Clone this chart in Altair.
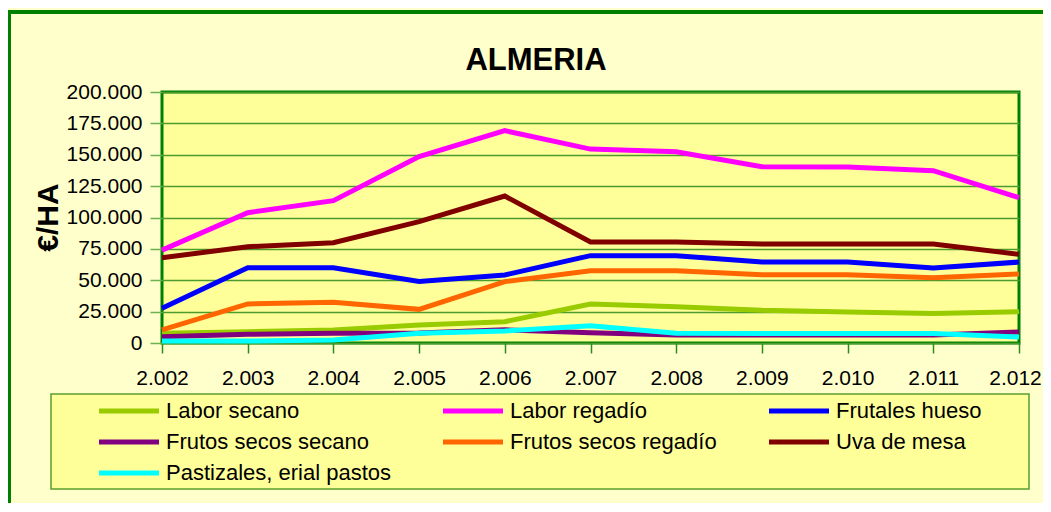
import altair as alt
import pandas as pd

FONT = "Liberation Sans"

years = ["2.002", "2.003", "2.004", "2.005", "2.006", "2.007", "2.008", "2.009", "2.010", "2.011", "2.012"]
series = ["Labor secano", "Labor regadío", "Frutales hueso", "Frutos secos secano",
          "Frutos secos regadío", "Uva de mesa", "Pastizales, erial pastos"]
colors = ["#99CC00", "#FF00FF", "#0000FF", "#800080", "#FF6600", "#800000", "#00FFFF"]

labor_secano = [7700, 9000, 10400, 14300, 17000, 31000, 28900, 26000, 24700, 23600, 25000]
labor_regadio = [74000, 103800, 113400, 148500, 169200, 154500, 152400, 140500, 140300, 137300, 115800]
frutales_hueso = [27600, 60000, 60000, 49000, 54200, 69600, 69600, 64500, 64500, 59800, 64500]
frutos_secos_secano = [5000, 6900, 7700, 8000, 10500, 8200, 6400, 6400, 6400, 6400, 8800]
frutos_secos_regadio = [10400, 31100, 32400, 26800, 48900, 57600, 57600, 54400, 54400, 52000, 55000]
uva_mesa = [68000, 76700, 79900, 96700, 117100, 80500, 80500, 78900, 78900, 78900, 70700]
pastizales = [1600, 1600, 2400, 7700, 9600, 13800, 7700, 7500, 7500, 7500, 4800]

y_ticks = [0, 25000, 50000, 75000, 100000, 125000, 150000, 175000, 200000]

all_values = [labor_secano, labor_regadio, frutales_hueso, frutos_secos_secano,
              frutos_secos_regadio, uva_mesa, pastizales]
rows = []
for name, vals in zip(series, all_values):
    for yr, v in zip(years, vals):
        rows.append({"year": yr, "value": v, "series": name})
df = pd.DataFrame(rows)

W, H = 857, 251
one = pd.DataFrame({"k": [0]})

frame_left = alt.Chart(one).mark_rule(color="#008000", strokeWidth=4).encode(
    x=alt.value(-153), y=alt.value(-82), y2=alt.value(440))
frame_top = alt.Chart(one).mark_rule(color="#008000", strokeWidth=4).encode(
    x=alt.value(-155), x2=alt.value(900), y=alt.value(-80))
legend_box = alt.Chart(one).mark_rect(fill="#FFFF99", stroke="#5aa02c", strokeWidth=1.5).encode(
    x=alt.value(-111), x2=alt.value(867), y=alt.value(302), y2=alt.value(397))
title = alt.Chart(one).mark_text(text="ALMERIA", fontSize=31, fontWeight="bold", font=FONT,
                                 baseline="alphabetic", align="center", color="black").encode(
    x=alt.value(374), y=alt.value(-22))

last_year = years[-1]

lines = alt.Chart(df).mark_line(strokeWidth=5).encode(
    x=alt.X("year:O", sort=years, scale=alt.Scale(type="point", padding=0),
            axis=alt.Axis(title=None, labelAngle=0, labelFontSize=21, labelFont=FONT,
                          labelColor="black", tickSize=10, tickColor="#2e8b20", tickWidth=1.5,
                          labelPadding=14, domain=False, grid=False,
                          labelOffset={"condition": {"test": f"datum.value == '{last_year}'", "value": -4},
                                       "value": 0})),
    y=alt.Y("value:Q", scale=alt.Scale(domain=[0, 200000]),
            axis=alt.Axis(values=y_ticks, title="€/HA", titleFontSize=30, titleFont=FONT,
                          titleFontWeight="bold", titleColor="black", titleAngle=270,
                          titleAlign="center", titleBaseline="middle", titleX=-114, titleY=125,
                          labelFontSize=21, labelFont=FONT, labelColor="black",
                          labelExpr="replace(format(datum.value, ','), ',', '.')",
                          tickSize=12, tickColor="#6ab04c", tickWidth=1.5, labelPadding=8,
                          domain=False, grid=True, gridColor="#4b9b2f", gridWidth=1.5)),
    color=alt.Color("series:N", sort=series,
                    scale=alt.Scale(domain=series, range=colors),
                    legend=alt.Legend(title=None, orient="none", direction="horizontal",
                                      legendX=-44, legendY=308,
                                      columns=3, symbolType="M-6,0H6", symbolSize=100,
                                      symbolStrokeWidth=5, labelFontSize=22, labelFont=FONT,
                                      labelColor="black", labelOffset=26, columnPadding=42,
                                      rowPadding=9, padding=0, labelLimit=400)),
)

chart = alt.layer(frame_left, frame_top, legend_box, title, lines).properties(
    width=W, height=H,
    autosize=alt.AutoSizeParams(type="none"),
    padding={"left": 154, "top": 84, "right": 24, "bottom": 160},
    background="#FFFFCC",
).configure_view(fill="#FFFF99", stroke="#008000", strokeWidth=3)

chart.save("out.html", embed_options={"renderer": "svg", "actions": False})
